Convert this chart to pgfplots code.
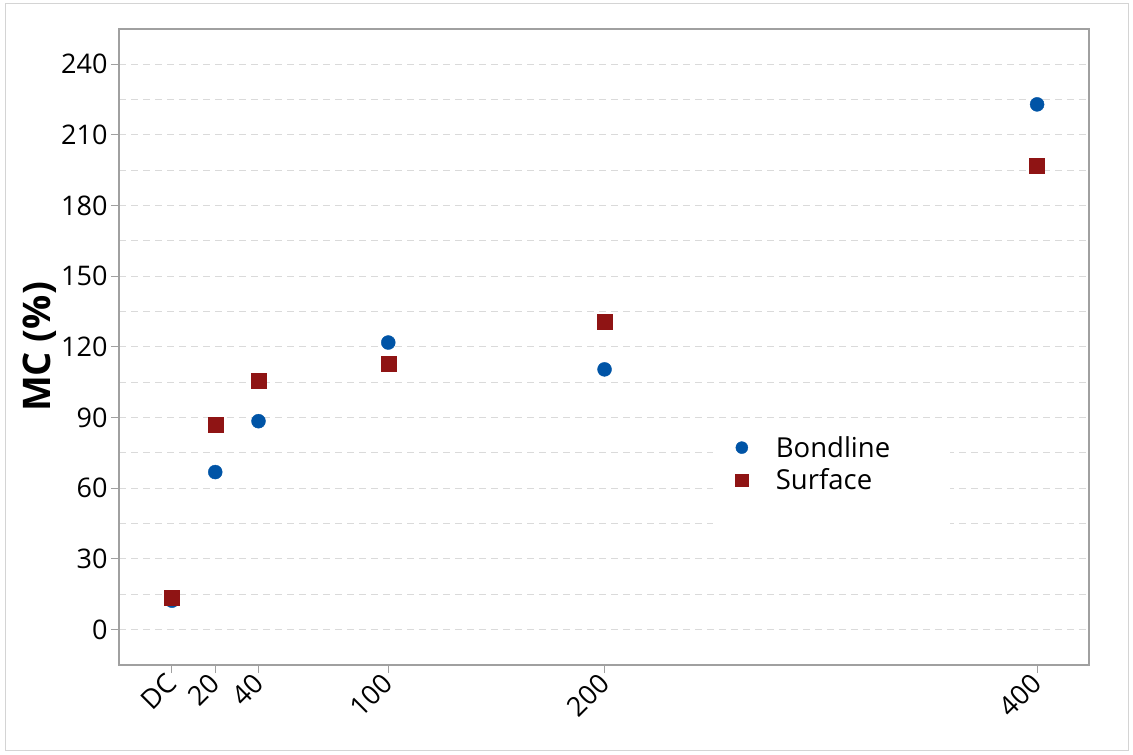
\documentclass[border=0pt]{standalone}
\usepackage{pgfplots}
\pgfplotsset{compat=1.18}
\usepackage{fontspec}
\setmainfont{Open Sans}
\definecolor{bblue}{RGB}{0,84,166}
\definecolor{sred}{RGB}{143,20,20}
\definecolor{axgray}{RGB}{160,160,160}
\definecolor{gridgray}{RGB}{218,218,218}
\definecolor{framegray}{RGB}{212,212,212}
\pgfplotsset{mymarkleg/.style={legend image code/.code={\path[draw=none,fill=none] (-29pt,0pt) -- (32pt,0pt); \draw[##1, mark size=#1] plot coordinates {(0pt,0pt)};}}}
\begin{document}
\begin{tikzpicture}[x=1pt,y=1pt]
\path (0,0) rectangle (1133,755);
\draw[framegray, line width=1pt] (5,4) rectangle (1128,751);
\begin{axis}[
  at={(119pt,90pt)}, anchor=south west,
  scale only axis, width=970pt, height=636pt,
  xmin=-24.5, xmax=424, ymin=-15, ymax=255,
  xtick={0,20,40,100,200,400},
  xticklabels={DC,20,40,100,200,400},
  ytick={0,30,...,240},
  minor ytick={15,45,...,225},
  ymajorgrids, yminorgrids,
  major grid style={gridgray, line width=1pt, dash pattern=on 7pt off 5pt},
  minor grid style={gridgray, line width=1pt, dash pattern=on 7pt off 5pt},
  axis line style={axgray, line width=1.2pt},
  tick style={axgray, line width=1pt},
  major tick length=8pt, minor tick length=0pt,
  tick align=outside,
  xtick pos=lower, ytick pos=left,
  /pgf/number format/assume math mode=true,
  tick label style={font=\fontsize{27}{32}\selectfont, black},
  xticklabel style={rotate=45, anchor=east, yshift=-4pt, xshift=-1pt},
  ylabel={MC (\%)},
  ylabel style={font=\fontsize{38}{44}\selectfont\bfseries, at={(rel axis cs:-0.0814,0.5)}, anchor=center},
  legend style={draw=none, fill=white, at={(rel axis cs:0.612,0.377)}, anchor=north west,
    font=\fontsize{27.5}{33}\selectfont, inner xsep=0pt, inner ysep=9pt, row sep=6pt},
  legend cell align=left,
]
\addplot[only marks, mark=*, mark size=7pt, color=bblue, mark options={fill=bblue, draw=bblue}, mymarkleg=6pt]
  coordinates {(0,12.3) (20,66.9) (40,88.5) (100,121.9) (200,110.5) (400,223)};
\addlegendentry{Bondline}
\addplot[only marks, mark=square*, mark size=7.5pt, color=sred, mark options={fill=sred, draw=sred}, mymarkleg=6.3pt]
  coordinates {(0,13.5) (20,87.2) (40,105.8) (100,113) (200,130.8) (400,196.8)};
\addlegendentry{Surface}
\addlegendimage{empty legend}
\addlegendentry{\rule{172pt}{0pt}\rule{0pt}{28pt}}
\end{axis}
\end{tikzpicture}
\end{document}
